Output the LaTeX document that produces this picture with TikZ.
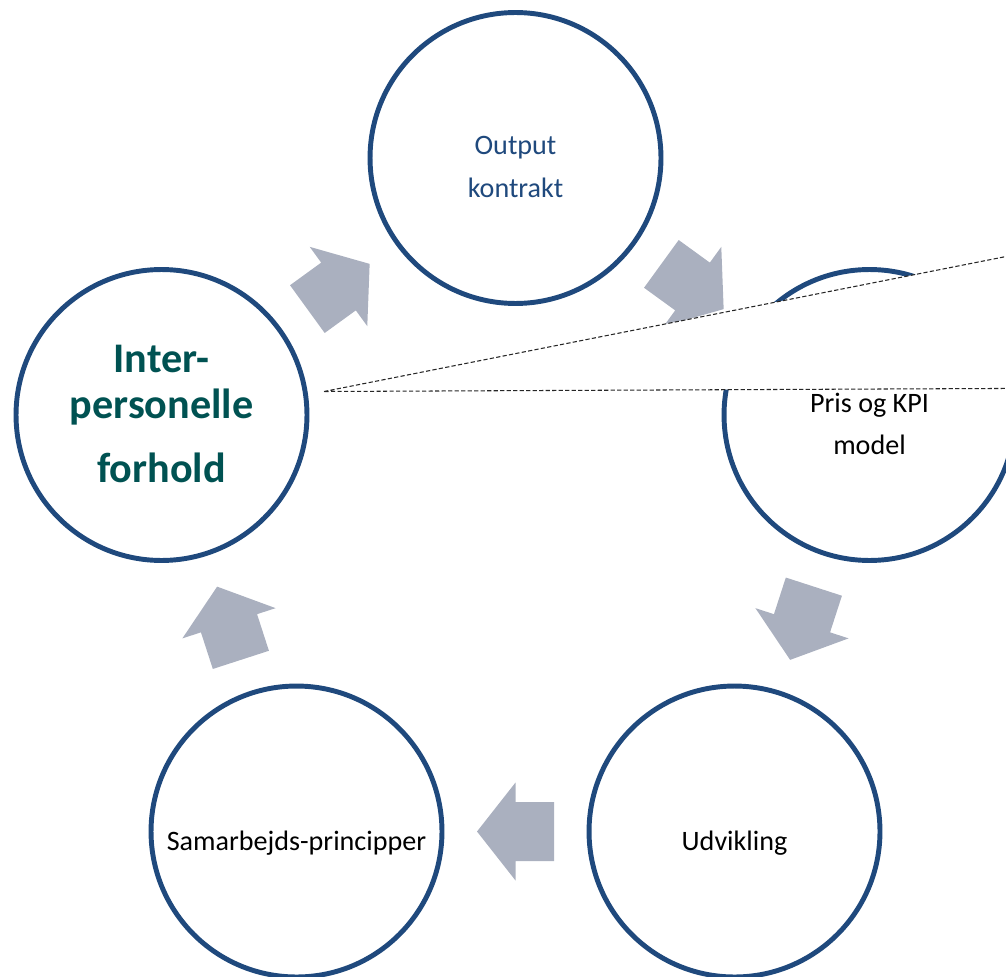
\documentclass[tikz,border=0pt]{standalone}
\usepackage{fontspec}
\setmainfont{Carlito}
\usetikzlibrary{calc}

\definecolor{ringblue}{RGB}{31,73,125}
\definecolor{arrowgray}{RGB}{170,176,191}
\definecolor{tealtext}{RGB}{0,82,82}

% Block arrow centred between two circle nodes, pointing from #1 to #2
\newcommand{\cyclearrow}[2]{%
  \coordinate (#1-#2-m) at ($(#1.center)!0.5!(#2.center)$);
  \coordinate (#1-#2-t) at ($(#1-#2-m)!-0.77cm!(#2.center)$);
  \fill[arrowgray]
    ($(#1-#2-m)!0.77cm!(#2.center)$)
    -- ($(#1-#2-m)!0.98cm!90:(#2.center)$)
    -- ($(#1-#2-m)!0.59cm!90:(#2.center)$)
    -- ($(#1-#2-t)!0.59cm!90:(#2.center)$)
    -- ($(#1-#2-t)!0.59cm!-90:(#2.center)$)
    -- ($(#1-#2-m)!0.59cm!-90:(#2.center)$)
    -- ($(#1-#2-m)!0.98cm!-90:(#2.center)$)
    -- cycle;
}

\begin{document}
\begin{tikzpicture}[x=0.02cm,y=-0.02cm,
  ring/.style={circle,draw=ringblue,line width=2.8pt,fill=white,
    minimum size=5.82cm,inner sep=0pt},
  lbl/.style={anchor=base,inner sep=0pt,font=\fontsize{16}{19}\selectfont},
  boldlbl/.style={anchor=base,inner sep=0pt,text=tealtext,
    font=\fontsize{24}{29}\selectfont\bfseries},
  callout/.style={draw=black!85,fill=white,line width=0.6pt,
    dash pattern=on 2.4pt off 1.3pt}]

\useasboundingbox (0,0) rectangle (1006,976);
\clip (0,0) rectangle (1006,976);

% the five circles of the cycle
\node[ring] (out) at (515.5,158) {};
\node[ring] (pris) at (869.5,415) {};
\node[ring] (udv) at (734.5,831.5) {};
\node[ring] (sam) at (296.5,831.5) {};
\node[ring] (inter) at (161.5,415) {};

% arrows between neighbouring circles
\cyclearrow{inter}{out}
\cyclearrow{out}{pris}
\cyclearrow{pris}{udv}
\cyclearrow{udv}{sam}
\cyclearrow{sam}{inter}

% dashed callout wedge
\coordinate (tip) at (324,391.5);
\coordinate (ctop) at (1040,249.8);
\coordinate (cbot) at (1040,388.3);
\draw[callout] (tip) -- (ctop) -- (cbot) -- cycle;

% labels
\node[lbl,text=ringblue] (out1) at (515.5,155) {Output};
\node[lbl,text=ringblue] (out2) at (515.5,198) {kontrakt};
\node[lbl] (pris1) at (869.5,412) {Pris og KPI};
\node[lbl] (pris2) at (869.5,454) {model};
\node[lbl] (udv1) at (734.5,850) {Udvikling};
\node[lbl] (sam1) at (296.5,850) {Samarbejds-principper};
\node[boldlbl] (inter1) at (161.5,372) {Inter-};
\node[boldlbl] (inter2) at (161.5,418) {personelle};
\node[boldlbl] (inter3) at (161.5,482) {forhold};

\end{tikzpicture}
\end{document}
